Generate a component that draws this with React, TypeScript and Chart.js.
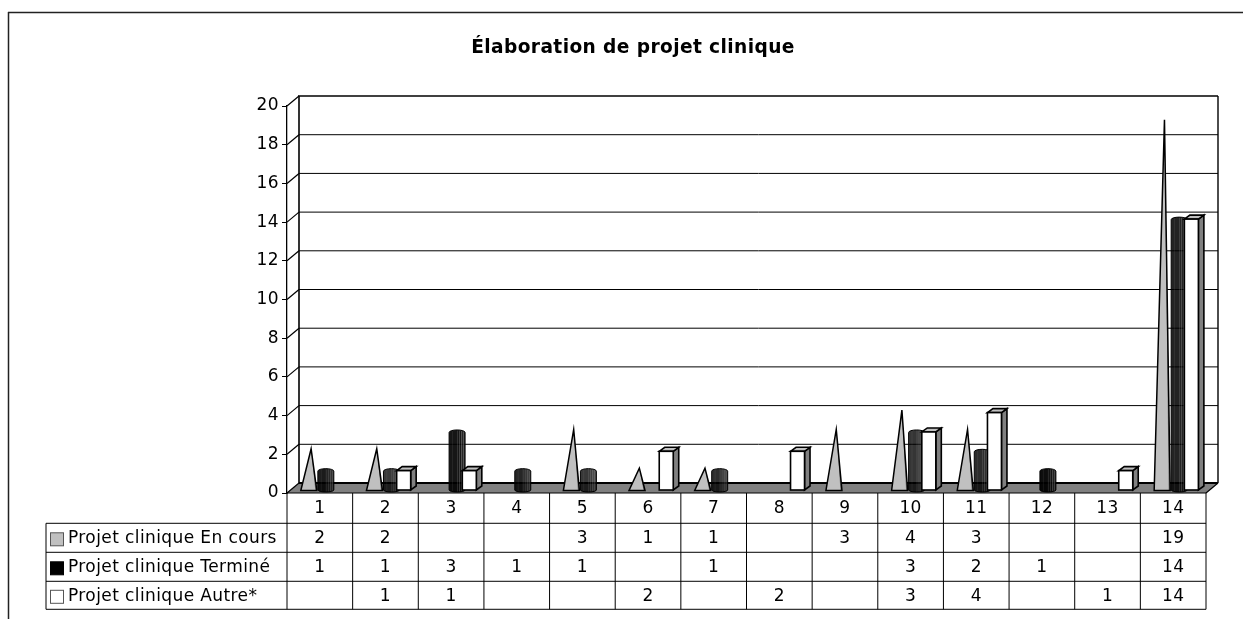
import React, { useEffect, useRef } from "react";
import { Chart, registerables } from "chart.js";

Chart.register(...registerables);

const TITLE = "Élaboration de projet clinique";
const categories = ["1", "2", "3", "4", "5", "6", "7", "8", "9", "10", "11", "12", "13", "14"];
const enCours = [2, 2, null, null, 3, 1, 1, null, 3, 4, 3, null, null, 19];
const termine = [1, 1, 3, 1, 1, null, 1, null, null, 3, 2, 1, null, 14];
const autre = [null, 1, 1, null, null, 2, null, 2, null, 3, 4, null, 1, 14];
const seriesNames = ["Projet clinique En cours", "Projet clinique Terminé", "Projet clinique Autre*"];

const FONT = "'DejaVu Sans'";
const SPACING = "0.4px";
const WALL_X = 12;
const WALL_Y = 10;
const LEG_X = 46;
const ROW_Y = [523.3, 552.3, 581.3, 609.3];
const SWATCH = ["#c0c0c0", "#000000", "#ffffff"];
const STRIPES = ["#000", "#000", "#000", "#111", "#000", "#000", "#000", "#000", "#222", "#000", "#333", "#000", "#444", "#111", "#444", "#111"];

const line = (c: any, x1: number, y1: number, x2: number, y2: number, w = 1, col = "#000") => {
  c.beginPath();
  c.lineWidth = w;
  c.strokeStyle = col;
  c.moveTo(x1, y1);
  c.lineTo(x2, y2);
  c.stroke();
};

const scenePlugin = {
  id: "scene",
  beforeDraw(chart: any) {
    chart.ctx.letterSpacing = SPACING;
  },
  beforeDatasetDraw() {
    return false;
  },
  beforeDatasetsDraw(chart: any) {
    const { ctx: c, scales, chartArea: a } = chart;
    const y = scales.y;
    c.save();
    // outer frame
    line(c, 8.5, 12, 8.5, 619, 1.5, "#222");
    line(c, 8, 12.5, 1243, 12.5, 1.5, "#222");
    // floor
    c.fillStyle = "#808080";
    c.beginPath();
    c.moveTo(a.left, a.bottom);
    c.lineTo(a.right, a.bottom);
    c.lineTo(a.right + WALL_X, a.bottom - WALL_Y);
    c.lineTo(a.left + WALL_X, a.bottom - WALL_Y);
    c.closePath();
    c.fill();
    // gridlines on the back wall and side diagonals
    y.ticks.forEach((t: any) => {
      const py = y.getPixelForValue(t.value);
      line(c, a.left, py, a.left + WALL_X, py - WALL_Y, 1.2);
      if (t.value > 0 && t.value < 20) line(c, a.left + WALL_X, py - WALL_Y, a.right + WALL_X, py - WALL_Y, 1);
    });
    line(c, a.left + WALL_X - 1, a.top - WALL_Y, a.right + WALL_X, a.top - WALL_Y, 1.6);
    line(c, a.left + WALL_X, a.top - WALL_Y, a.left + WALL_X, a.bottom - WALL_Y, 1.6);
    line(c, a.right + WALL_X, a.top - WALL_Y, a.right + WALL_X, a.bottom - WALL_Y, 1.4);
    line(c, a.left + WALL_X, a.bottom - WALL_Y, a.right + WALL_X, a.bottom - WALL_Y, 1.8);
    line(c, a.right, a.bottom, a.right + WALL_X, a.bottom - WALL_Y, 1.2);
    line(c, a.left, a.bottom, a.right, a.bottom, 1.2);
    c.restore();
  },
  afterDatasetsDraw(chart: any) {
    const { ctx: c, scales } = chart;
    const y = scales.y;
    const base = y.getPixelForValue(0) - 3;
    const top = (v: number) => y.getPixelForValue(v) - 3;
    c.save();

    // cylinders
    chart.getDatasetMeta(1).data.forEach((el: any, i: number) => {
      const v = termine[i];
      if (v == null) return;
      const w = 16;
      const l = el.x + 6 - w / 2;
      const ty = top(v) + 0.5;
      const ry = 2.5;
      c.save();
      c.beginPath();
      c.moveTo(l, ty);
      c.ellipse(l + w / 2, ty, w / 2, ry, 0, Math.PI, 0);
      c.lineTo(l + w, base);
      c.ellipse(l + w / 2, base, w / 2, ry - 0.5, 0, 0, Math.PI);
      c.closePath();
      c.save();
      c.clip();
      STRIPES.forEach((col, k) => {
        c.fillStyle = col;
        c.fillRect(l + k, ty - ry - 1, 1.05, base - ty + 2 * ry + 2);
      });
      c.restore();
      c.lineWidth = 1;
      c.strokeStyle = "#000";
      c.stroke();
      c.restore();
    });

    // cones
    chart.getDatasetMeta(0).data.forEach((el: any, i: number) => {
      const v = enCours[i];
      if (v == null) return;
      const cx = el.x + 3.5;
      const hw = 8;
      const ax = el.x + 5.8;
      const ay = top(v) - 2.5;
      const outline = () => {
        c.beginPath();
        c.moveTo(ax, ay);
        c.lineTo(cx + hw, base + 0.5);
        c.lineTo(cx - hw, base + 0.5);
        c.closePath();
      };
      outline();
      c.fillStyle = "#c0c0c0";
      c.fill();
      c.beginPath();
      c.moveTo(ax, ay);
      c.lineTo(cx + hw, base + 0.5);
      c.lineTo(cx + hw - 1.5, base + 0.5);
      c.closePath();
      c.fillStyle = "#707070";
      c.fill();
      outline();
      c.lineWidth = 1.5;
      c.lineJoin = "miter";
      c.strokeStyle = "#000";
      c.stroke();
    });

    // boxes
    chart.getDatasetMeta(2).data.forEach((el: any, i: number) => {
      const v = autre[i];
      if (v == null) return;
      const w = 14;
      const dx = 5.5;
      const dy = 4;
      const l = el.x + 3.7 - w / 2;
      const r = l + w;
      const t = top(v);
      c.lineWidth = 1.6;
      c.lineJoin = "miter";
      c.strokeStyle = "#000";
      c.fillStyle = "#808080";
      c.beginPath();
      c.moveTo(r, t);
      c.lineTo(r + dx, t - dy);
      c.lineTo(r + dx, base - dy);
      c.lineTo(r, base);
      c.closePath();
      c.fill();
      c.stroke();
      c.fillStyle = "#c0c0c0";
      c.beginPath();
      c.moveTo(l, t);
      c.lineTo(l + dx, t - dy);
      c.lineTo(r + dx, t - dy);
      c.lineTo(r, t);
      c.closePath();
      c.fill();
      c.stroke();
      c.fillStyle = "#fff";
      c.fillRect(l, t, w, base - t);
      c.strokeRect(l, t, w, base - t);
    });
    c.restore();
  },
  afterDraw(chart: any) {
    const { ctx: c, scales, chartArea: a } = chart;
    const x = scales.x;
    const step = (a.right - a.left) / categories.length;
    c.save();
    // data table grid
    ROW_Y.forEach((ry) => line(c, LEG_X, ry, a.right, ry, 1));
    line(c, LEG_X, ROW_Y[0], LEG_X, ROW_Y[3], 1);
    for (let i = 0; i <= categories.length; i++) {
      const px = a.left + step * i;
      line(c, px, a.bottom, px, ROW_Y[3], 1);
    }
    // legend keys + names
    c.font = `17px ${FONT}`;
    c.textBaseline = "middle";
    c.textAlign = "left";
    seriesNames.forEach((name, k) => {
      const cy = (ROW_Y[k] + ROW_Y[k + 1]) / 2;
      c.fillStyle = SWATCH[k];
      c.fillRect(50.5, cy - 5, 13, 13);
      c.lineWidth = 1;
      c.strokeStyle = k === 1 ? "#000" : "#555";
      c.strokeRect(50.5, cy - 5, 13, 13);
      c.fillStyle = "#000";
      c.fillText(name, 68, cy + 1);
    });
    // table values
    c.textAlign = "center";
    [enCours, termine, autre].forEach((row, k) => {
      const cy = (ROW_Y[k] + ROW_Y[k + 1]) / 2;
      row.forEach((v, i) => {
        if (v != null) c.fillText(String(v), x.getPixelForTick(i), cy + 1);
      });
    });
    c.restore();
  },
};

export default function App() {
  const ref = useRef<HTMLCanvasElement>(null);
  useEffect(() => {
    const chart = new Chart(ref.current as HTMLCanvasElement, {
      type: "bar",
      data: {
        labels: categories,
        datasets: [
          { label: seriesNames[0], data: enCours, backgroundColor: SWATCH[0] },
          { label: seriesNames[1], data: termine, backgroundColor: SWATCH[1] },
          { label: seriesNames[2], data: autre, backgroundColor: SWATCH[2] },
        ],
      },
      options: {
        responsive: false,
        animation: false,
        datasets: { bar: { categoryPercentage: 0.663, barPercentage: 1 } },
        layout: { padding: { left: 60, right: 37, top: 37, bottom: 96 } },
        plugins: {
          legend: { display: false },
          tooltip: { enabled: false },
          title: {
            display: true,
            text: TITLE,
            color: "#000",
            font: { family: FONT, size: 18.6, weight: "bold" },
            padding: { top: 0, bottom: 46.7 },
          },
        },
        scales: {
          x: {
            afterFit: (s: any) => {
              s.height = 30;
            },
            grid: { display: false, drawTicks: false },
            border: { display: false },
            ticks: { color: "#000", font: { family: FONT, size: 17 }, padding: 5, maxRotation: 0, autoSkip: false },
          },
          y: {
            min: 0,
            max: 20,
            afterFit: (s: any) => {
              s.width = 227;
            },
            grid: { drawOnChartArea: false, drawTicks: true, tickLength: 5, color: "#000", tickColor: "#000" },
            border: { display: true, color: "#000", width: 1.3 },
            ticks: { stepSize: 2, color: "#000", font: { family: FONT, size: 17 }, padding: 3, autoSkip: false },
          },
        },
      },
      plugins: [scenePlugin],
    } as any);
    return () => chart.destroy();
  }, []);
  return (
    <canvas
      ref={ref}
      width={1243}
      height={619}
      style={{ position: "fixed", left: 0, top: 0, display: "block", background: "#fff" }}
    />
  );
}
